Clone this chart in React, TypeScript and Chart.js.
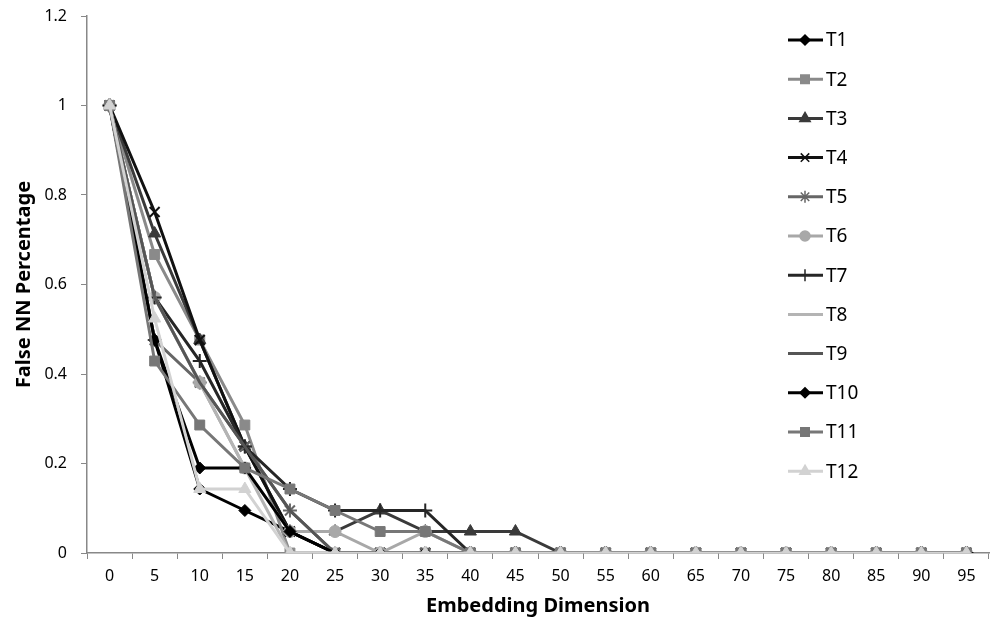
import React, { useEffect, useRef } from "react";
import { Chart, registerables } from "chart.js";
import { drawPoint } from "chart.js/helpers";

Chart.register(...registerables);

const categories = ["0","5","10","15","20","25","30","35","40","45","50","55","60","65","70","75","80","85","90","95"];
const yTicks = [0, 0.2, 0.4, 0.6, 0.8, 1, 1.2];

const T1 = [1, 0.476, 0.143, 0.095, 0.048, 0, 0, 0, 0, 0, 0, 0, 0, 0, 0, 0, 0, 0, 0, 0];
const T2 = [1, 0.667, 0.476, 0.286, 0, 0, 0, 0, 0, 0, 0, 0, 0, 0, 0, 0, 0, 0, 0, 0];
const T3 = [1, 0.714, 0.476, 0.238, 0.048, 0.048, 0.095, 0.048, 0.048, 0.048, 0, 0, 0, 0, 0, 0, 0, 0, 0, 0];
const T4 = [1, 0.762, 0.476, 0.238, 0.048, 0, 0, 0, 0, 0, 0, 0, 0, 0, 0, 0, 0, 0, 0, 0];
const T5 = [1, 0.476, 0.381, 0.238, 0.095, 0, 0, 0, 0, 0, 0, 0, 0, 0, 0, 0, 0, 0, 0, 0];
const T6 = [1, 0.571, 0.381, 0.19, 0.048, 0.048, 0, 0.048, 0, 0, 0, 0, 0, 0, 0, 0, 0, 0, 0, 0];
const T7 = [1, 0.571, 0.429, 0.238, 0.143, 0.095, 0.095, 0.095, 0, 0, 0, 0, 0, 0, 0, 0, 0, 0, 0, 0];
const T8 = [1, 0.571, 0.381, 0.19, 0, 0, 0, 0, 0, 0, 0, 0, 0, 0, 0, 0, 0, 0, 0, 0];
const T9 = [1, 0.571, 0.381, 0.238, 0.095, 0, 0, 0, 0, 0, 0, 0, 0, 0, 0, 0, 0, 0, 0, 0];
const T10 = [1, 0.476, 0.19, 0.19, 0.048, 0, 0, 0, 0, 0, 0, 0, 0, 0, 0, 0, 0, 0, 0, 0];
const T11 = [1, 0.429, 0.286, 0.19, 0.143, 0.095, 0.048, 0.048, 0, 0, 0, 0, 0, 0, 0, 0, 0, 0, 0, 0];
const T12 = [1, 0.524, 0.143, 0.143, 0, 0, 0, 0, 0, 0, 0, 0, 0, 0, 0, 0, 0, 0, 0, 0];

const seriesNames = ["T1","T2","T3","T4","T5","T6","T7","T8","T9","T10","T11","T12"];
const seriesData = [T1, T2, T3, T4, T5, T6, T7, T8, T9, T10, T11, T12];
const seriesColors = ["#000000","#8a8a8a","#3a3a3a","#111111","#666666","#a8a8a8","#262626","#b4b4b4","#555555","#000000","#777777","#d2d2d2"];
const seriesStyles: any[] = ["rectRot","rect","triangle","crossRot","star","circle","cross",false,false,"rectRot","rect","triangle"];
const seriesRadius = [6, 7, 7, 7, 7, 6, 7, 0, 0, 6, 7, 7];

const FONT = "'Noto Sans', 'DejaVu Sans', sans-serif";

const legendPlugin = {
  id: "customLegend",
  afterDatasetsDraw(chart: any) {
    const ctx = chart.ctx;
    ctx.save();
    chart.data.datasets.forEach((ds: any, i: number) => {
      const y = 40 + i * 39.2;
      ctx.strokeStyle = ds.borderColor;
      ctx.lineWidth = 3;
      ctx.beginPath();
      ctx.moveTo(788, y);
      ctx.lineTo(823, y);
      ctx.stroke();
      if (ds.pointStyle) {
        ctx.fillStyle = ds.pointBackgroundColor;
        ctx.strokeStyle = ds.pointBorderColor;
        ctx.lineWidth = 1.5;
        drawPoint(ctx, { pointStyle: ds.pointStyle, radius: Math.max(4, ds.pointRadius - 1), rotation: 0, borderWidth: 1.5 }, 805, y);
      }
      ctx.fillStyle = "#000";
      ctx.font = `19px ${FONT}`;
      ctx.textBaseline = "middle";
      ctx.textAlign = "left";
      ctx.fillText(ds.label, 826, y + 1);
    });
    ctx.restore();
  },
};

export default function App() {
  const ref = useRef<HTMLCanvasElement | null>(null);
  useEffect(() => {
    document.body.style.margin = "0";
    const canvas = ref.current!;
    const datasets = seriesNames.map((name, i) => ({
      label: name,
      data: seriesData[i],
      borderColor: seriesColors[i],
      backgroundColor: seriesColors[i],
      pointBackgroundColor: seriesColors[i],
      pointBorderColor: seriesColors[i],
      pointStyle: seriesStyles[i],
      pointRadius: seriesRadius[i],
      pointBorderWidth: seriesStyles[i] === "crossRot" || seriesStyles[i] === "star" || seriesStyles[i] === "cross" ? 2 : 1,
      borderWidth: 3,
      tension: 0,
      order: seriesNames.length - i,
    }));
    const chart = new Chart(canvas, {
      type: "line",
      data: { labels: categories, datasets },
      plugins: [legendPlugin],
      options: {
        animation: false,
        responsive: false,
        maintainAspectRatio: false,
        layout: { padding: { top: 16, right: 8, left: 0, bottom: 0 } },
        plugins: { legend: { display: false }, tooltip: { enabled: false } },
        scales: {
          x: {
            type: "category",
            offset: true,
            grid: { display: true, drawOnChartArea: false, drawTicks: true, tickLength: 6, offset: true, color: "#888" },
            border: { display: true, color: "#888", width: 1.5 },
            ticks: { color: "#000", font: { size: 16, family: FONT }, padding: 8, maxRotation: 0, autoSkip: false },
            title: { display: true, text: "Embedding Dimension", color: "#000", font: { size: 20, weight: "bold", family: FONT }, padding: { top: 2 } },
            afterFit: (s: any) => { s.height = 69; s.paddingLeft = 0; s.paddingRight = 0; },
          },
          y: {
            min: 0,
            max: 1.2,
            afterBuildTicks: (s: any) => { s.ticks = yTicks.map((v) => ({ value: v })); },
            grid: { display: true, drawOnChartArea: false, drawTicks: true, tickLength: 6, color: "#888" },
            border: { display: true, color: "#888", width: 1.5 },
            ticks: { color: "#000", font: { size: 16, family: FONT }, padding: 14, callback: (v: any) => String(Math.round(Number(v) * 10) / 10) },
            title: { display: true, text: "False NN Percentage", color: "#000", font: { size: 20, weight: "bold", family: FONT }, padding: { top: 12, bottom: 2 } },
            afterFit: (s: any) => { s.width = 87; s.paddingTop = 0; s.paddingBottom = 0; },
          },
        },
      },
    });
    return () => chart.destroy();
  }, []);
  return (
    <div style={{ width: 998, height: 622 }}>
      <canvas ref={ref} width={998} height={622} style={{ display: "block", width: 998, height: 622 }} />
    </div>
  );
}
